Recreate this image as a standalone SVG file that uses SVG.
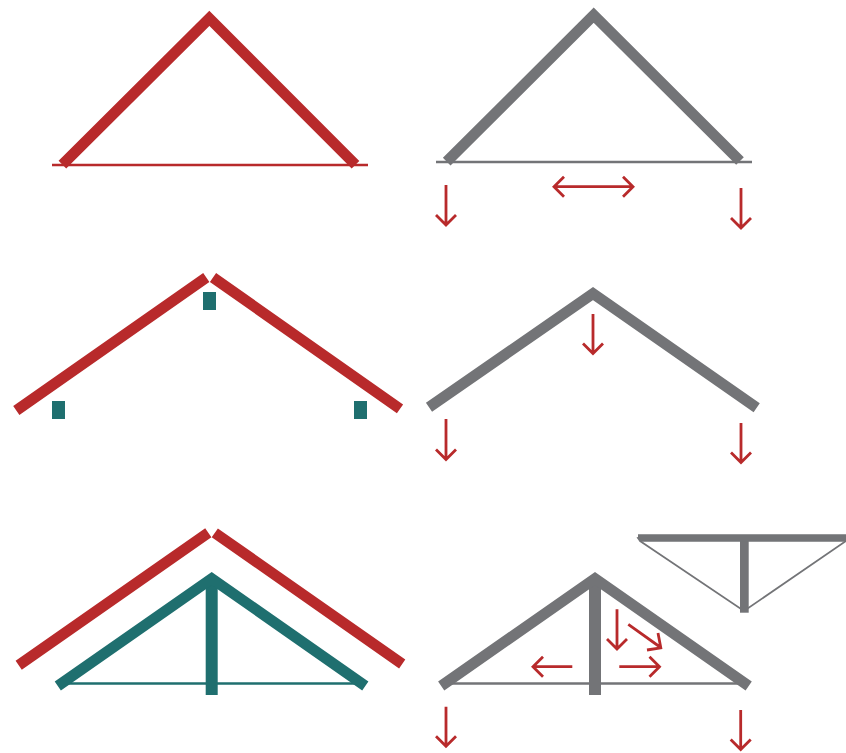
<svg xmlns="http://www.w3.org/2000/svg" width="846" height="753" viewBox="0 0 846 753">
<style>
.red{stroke:#b82a2b;fill:none}
.gray{stroke:#737477;fill:none}
.teal{stroke:#1f6f6f;fill:none}
.raf{stroke-width:10.8;stroke-linejoin:miter;stroke-miterlimit:10}
.tie{stroke-width:2.4}
.arr{stroke:#b82a2b;stroke-width:2.8;fill:none;stroke-linejoin:miter;stroke-miterlimit:10}
.post{fill:#1f6f6f}
.gpost{fill:#737477}
</style>
<rect width="846" height="753" fill="#fff"/>
<g id="truss-a">
<path class="red tie" d="M52 165H368"/>
<path class="red raf" d="M62.400 164.600L209.300 18.300L355.500 164.800"/>
</g>
<g id="truss-b">
<path class="gray tie" d="M436 162H752"/>
<path class="gray raf" d="M446.700 161.600L593.700 15.200L740 161"/>
</g>
<g id="truss-c">
<path class="red raf" d="M16.300 410.500L206.300 277.500M213 277.500L400 408.800"/>
<rect class="post" x="203" y="292" width="13" height="18"/>
<rect class="post" x="52" y="401" width="13" height="18"/>
<rect class="post" x="354" y="401" width="13" height="18"/>
</g>
<g id="truss-d">
<path class="gray raf" d="M429 407.300L593 293.600L756.700 407.700"/>
</g>
<g id="truss-e">
<path class="red raf" d="M18.700 665.300L208.300 532.800M214.800 532.800L402.200 664"/>
<path class="teal tie" d="M60 683.500H362"/>
<rect class="post" x="205.700" y="578" width="12" height="117"/>
<path class="teal raf" d="M57.800 686L211.700 578.500L365.300 686"/>
</g>
<g id="truss-f">
<path class="gray tie" d="M445 683.500H745"/>
<rect class="gpost" x="589" y="578" width="12" height="117"/>
<path class="gray raf" d="M441.200 686L595 578.500L748.700 686"/>
</g>
<g id="inset">
<path class="gray" stroke-width="1.800" d="M640 541L744 611L846 541"/>
<rect class="gpost" x="740" y="538" width="8.700" height="74.700"/>
<path class="gpost" d="M638 534.200H846V541.800H639.500L638 539.500L636.500 537.500L638 537Z"/>
</g>
<g id="connectors">
<path class="arr" d="M446 185V224.500M436 215L446 225L456 215"/>
<path class="arr" d="M741 188V227.500M731 218L741 228L751 218"/>
<path class="arr" d="M554 186.700H633M564 176.700L554 186.700L564 196.700M623 176.700L633 186.700L623 196.700"/>
<path class="arr" d="M593 314V353M583 343.500L593 353.500L603 343.500"/>
<path class="arr" d="M446 419V459M436 449.500L446 459.500L456 449.500"/>
<path class="arr" d="M741 423V462M731 452.500L741 462.500L751 452.500"/>
<path class="arr" d="M617 609.300V649M607 639L617 649L627 639"/>
<path class="arr" d="M628.300 624.300L660 647M658 633L660.800 647.800L647 650"/>
<path class="arr" d="M572.300 666.700H534M543 656.700L533 666.700L543 676.700"/>
<path class="arr" d="M619.300 666.700H659M649.500 656.700L659.500 666.700L649.500 676.700"/>
<path class="arr" d="M446 706.700V746M436 736.200L446 746.200L456 736.200"/>
<path class="arr" d="M740.700 710V749M730.700 739.500L740.700 749.500L750.700 739.500"/>
</g>
</svg>
